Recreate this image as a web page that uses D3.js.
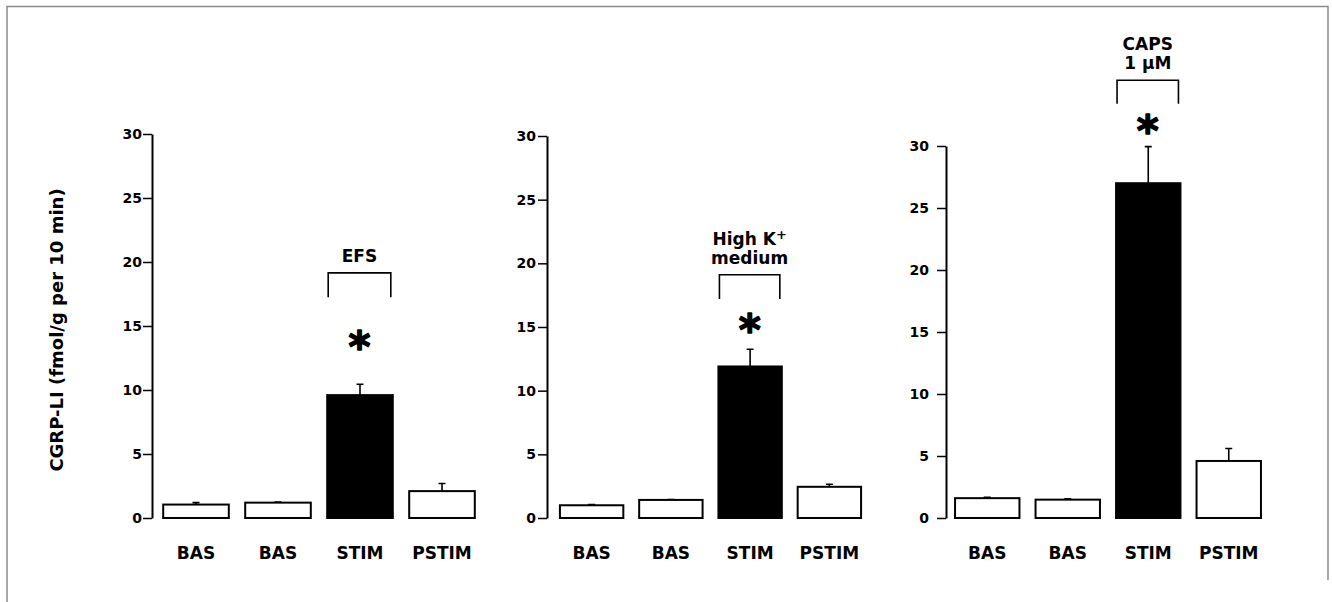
<!DOCTYPE html>
<html lang="en">
<head>
<meta charset="UTF-8">
<title>CGRP-LI release</title>
<script src="https://cdnjs.cloudflare.com/ajax/libs/d3/7.8.5/d3.min.js"></script>
<style>
  body { margin: 0; background: #fff; }
  svg { display: block; font-family: "DejaVu Sans", "Liberation Sans", Arial, sans-serif; font-weight: bold; }
  .tick text { font-weight: bold; font-size: 14px; fill: #000; font-family: "DejaVu Sans", sans-serif; }
  .cat { font-size: 17px; }
  .note { font-size: 17px; }
</style>
</head>
<body>
<svg width="1332" height="602"></svg>
<script>
// data
const categories = ['BAS', 'BAS', 'STIM', 'PSTIM'];
const efsValues = [1.05, 1.2, 9.6, 2.1];
const efsErrors = [0.15, 0.05, 0.85, 0.6];
const highKValues = [1.0, 1.42, 11.9, 2.45];
const highKErrors = [0.05, 0.03, 1.35, 0.2];
const capsValues = [1.6, 1.48, 27.0, 4.6];
const capsErrors = [0.07, 0.07, 2.95, 1.0];
const yTicks = [0, 5, 10, 15, 20, 25, 30];
const stimLabels = [['EFS'], ['High K', 'medium'], ['CAPS', '1 μM']];

const panels = [
  { values: efsValues, errors: efsErrors, label: stimLabels[0], axisX: 152, pad: 1, xr: [155, 483], yr: [518, 134], bracket: [19.15, 17.25] },
  { values: highKValues, errors: highKErrors, label: stimLabels[1], axisX: 547, pad: 2, xr: [552, 869], yr: [518, 136], bracket: [19.1, 17.2] },
  { values: capsValues, errors: capsErrors, label: stimLabels[2], axisX: 946, pad: 8, xr: [947, 1269], yr: [518, 146], bracket: [35.3, 33.4] }
];

const svg = d3.select('svg');

// frame
svg.append('path')
  .attr('d', 'M7,602 V6.5 H1328 V580')
  .attr('fill', 'none')
  .attr('stroke', '#8a8a8a')
  .attr('stroke-width', 1.5);

svg.append('text')
  .attr('transform', 'translate(56, 330) rotate(-90)')
  .attr('text-anchor', 'middle')
  .attr('dominant-baseline', 'central')
  .attr('font-size', 18)
  .text('CGRP-LI (fmol/g per 10 min)');

panels.forEach((p) => {
  const g = svg.append('g');

  const x = d3.scaleBand()
    .domain(d3.range(categories.length))
    .range(p.xr)
    .paddingInner(0.2)
    .paddingOuter(0.1);

  const y = d3.scaleLinear()
    .domain([0, 30])
    .range(p.yr);

  const axis = g.append('g')
    .attr('transform', `translate(${p.axisX}, 0)`)
    .call(d3.axisLeft(y).tickValues(yTicks).tickSize(9).tickSizeOuter(0).tickPadding(p.pad));
  axis.select('.domain').attr('stroke-width', 2);
  axis.selectAll('.tick line').attr('stroke-width', 1.5);

  // error bars (upward only)
  g.selectAll('.err')
    .data(p.values)
    .enter()
    .append('path')
    .attr('d', (v, i) => {
      const cx = x(i) + x.bandwidth() / 2;
      return `M${cx},${y(v)} V${y(v + p.errors[i])} M${cx - 3.5},${y(v + p.errors[i])} H${cx + 3.5}`;
    })
    .attr('stroke', '#000')
    .attr('stroke-width', 1.6)
    .attr('fill', 'none');

  g.selectAll('.bar')
    .data(p.values)
    .enter()
    .append('rect')
    .attr('x', (v, i) => x(i))
    .attr('y', (v) => y(v))
    .attr('width', x.bandwidth())
    .attr('height', (v) => y(0) - y(v))
    .attr('fill', (v, i) => categories[i] === 'STIM' ? '#000' : '#fff')
    .attr('stroke', '#000')
    .attr('stroke-width', 2);

  g.selectAll('.cat')
    .data(categories)
    .enter()
    .append('text')
    .attr('class', 'cat')
    .attr('x', (c, i) => x(i) + x.bandwidth() / 2)
    .attr('y', 559)
    .attr('text-anchor', 'middle')
    .text((c) => c);

  // bracket, asterisk and stimulus label over the STIM bar
  const si = categories.indexOf('STIM');
  const bx0 = x(si) + 1;
  const bx1 = x(si) + x.bandwidth() - 2;
  const bcx = (bx0 + bx1) / 2;
  g.append('path')
    .attr('d', `M${bx0},${y(p.bracket[1])} V${y(p.bracket[0])} H${bx1} V${y(p.bracket[1])}`)
    .attr('fill', 'none')
    .attr('stroke', '#000')
    .attr('stroke-width', 1.6);

  g.append('text')
    .attr('x', bcx)
    .attr('y', (y(p.bracket[1]) + y(p.values[si] + p.errors[si])) / 2 + 21)
    .attr('text-anchor', 'middle')
    .attr('font-size', 42)
    .attr('stroke', '#000')
    .attr('stroke-width', 1.5)
    .attr('stroke-linejoin', 'round')
    .text('*');

  const lines = p.label;
  const t = g.append('text')
    .attr('class', 'note')
    .attr('text-anchor', 'middle');
  lines.forEach((ln, k) => {
    const ts = t.append('tspan')
      .attr('x', bcx)
      .attr('y', y(p.bracket[0]) - 11 - (lines.length - 1 - k) * 19)
      .text(ln);
    if (ln === 'High K') {
      ts.append('tspan').attr('dy', -6).attr('font-size', 13).text('+');
    }
  });
});
</script>
</body>
</html>
